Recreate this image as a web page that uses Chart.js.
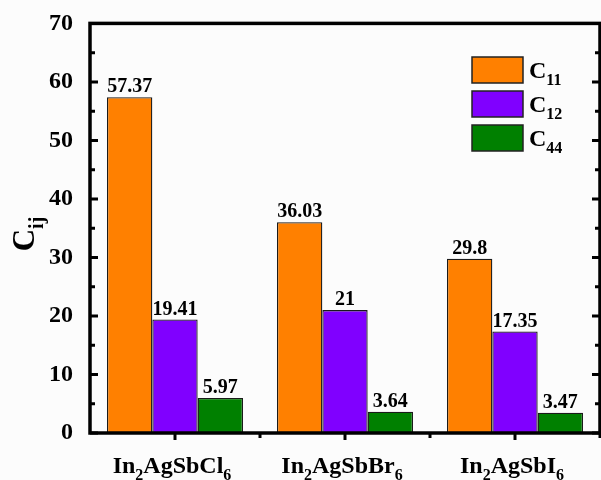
<!DOCTYPE html>
<html>
<head>
<meta charset="utf-8">
<script src="https://cdn.jsdelivr.net/npm/chart.js@4"></script>
<style>
  body { margin: 0; background: #fcfcfc; }
  #wrap { width: 601px; height: 480px; }
</style>
</head>
<body>
<div id="wrap"><canvas id="chart" width="601" height="480"></canvas></div>
<script>
// Data
const categories = ['In_{2}AgSbCl_{6}', 'In_{2}AgSbBr_{6}', 'In_{2}AgSbI_{6}'];
const seriesNames = ['C_{11}', 'C_{12}', 'C_{44}'];
const c11 = [57.37, 36.03, 29.8];
const c12 = [19.41, 21, 17.35];
const c44 = [5.97, 3.64, 3.47];
const yTicks = [0, 10, 20, 30, 40, 50, 60, 70];

const colors = ['#ff8000', '#8000ff', '#008000'];
const FONT = "'Liberation Serif', 'Times New Roman', serif";

// Draw text with _{...} parts as subscripts
function drawRich(ctx, text, x, y, size, subSize, align) {
    const parts = [];
    const re = /_\{([^}]*)\}/g;
    let last = 0, m;
    while ((m = re.exec(text)) !== null) {
        if (m.index > last) parts.push({ t: text.slice(last, m.index), sub: false });
        parts.push({ t: m[1], sub: true });
        last = re.lastIndex;
    }
    if (last < text.length) parts.push({ t: text.slice(last), sub: false });

    let total = 0;
    parts.forEach(p => {
        ctx.font = 'bold ' + (p.sub ? subSize : size) + 'px ' + FONT;
        p.w = ctx.measureText(p.t).width;
        total += p.w;
    });
    let cx = align === 'center' ? x - total / 2 : x;
    ctx.textAlign = 'left';
    ctx.textBaseline = 'alphabetic';
    parts.forEach(p => {
        ctx.font = 'bold ' + (p.sub ? subSize : size) + 'px ' + FONT;
        ctx.fillText(p.t, cx, p.sub ? y + size * 0.28 : y);
        cx += p.w;
    });
}

const framePlugin = {
    id: 'frame',
    afterDatasetsDraw(chart) {
        const ctx = chart.ctx;
        const { left, right, top, bottom } = chart.chartArea;
        const y = chart.scales.y;
        const x = chart.scales.x;
        ctx.save();
        ctx.fillStyle = '#000';
        ctx.strokeStyle = '#000';

        // value labels above bars
        chart.data.datasets.forEach((ds, di) => {
            chart.getDatasetMeta(di).data.forEach((bar, i) => {
                ctx.font = 'bold 20px ' + FONT;
                ctx.textAlign = 'center';
                ctx.textBaseline = 'bottom';
                ctx.fillText(String(ds.data[i]), bar.x, bar.y);
            });
        });

        // frame
        ctx.lineWidth = 3.5;
        ctx.strokeRect(left, top, right - left, bottom - top);

        // y ticks (inward), left and right
        for (let v = 0; v <= 70; v += 5) {
            const py = y.getPixelForValue(v);
            const len = v % 10 === 0 ? 8 : 5;
            ctx.lineWidth = 3;
            ctx.beginPath();
            ctx.moveTo(left, py); ctx.lineTo(left + len, py);
            ctx.moveTo(right, py); ctx.lineTo(right - len, py);
            ctx.stroke();
        }

        // x ticks (outward)
        for (let i = 0; i < categories.length; i++) {
            const px = x.getPixelForValue(i);
            const half = (x.getPixelForValue(1) - x.getPixelForValue(0)) / 2;
            ctx.lineWidth = 3;
            ctx.beginPath();
            ctx.moveTo(px, bottom); ctx.lineTo(px, bottom + 7);
            ctx.moveTo(px + half, bottom); ctx.lineTo(px + half, bottom + 5);
            ctx.stroke();
        }

        // x labels
        categories.forEach((c, i) => {
            drawRich(ctx, c, x.getPixelForValue(i) - 3, 473, 24, 16, 'center');
        });

        // y title
        ctx.save();
        ctx.translate(34, 234);
        ctx.rotate(-Math.PI / 2);
        drawRich(ctx, 'C_{ij}', 0, 0, 31, 20, 'center');
        ctx.restore();

        // legend
        const lx = 472, ly = [57, 91, 125];
        chart.data.datasets.forEach((ds, di) => {
            ctx.fillStyle = ds.backgroundColor;
            ctx.fillRect(lx, ly[di], 51, 26);
            ctx.lineWidth = 1.5;
            ctx.strokeStyle = '#222';
            ctx.strokeRect(lx, ly[di], 51, 26);
            ctx.fillStyle = '#000';
            drawRich(ctx, ds.label, lx + 57, ly[di] + 21, 24, 16, 'left');
        });
        ctx.restore();
    }
};

new Chart(document.getElementById('chart'), {
    type: 'bar',
    data: {
        labels: categories,
        datasets: [
            { label: seriesNames[0], data: c11, backgroundColor: colors[0] },
            { label: seriesNames[1], data: c12, backgroundColor: colors[1] },
            { label: seriesNames[2], data: c44, backgroundColor: colors[2] }
        ].map(d => Object.assign(d, {
            borderColor: '#1a1a1a',
            borderWidth: 1.3,
            categoryPercentage: 0.8,
            barPercentage: 1.0
        }))
    },
    options: {
        responsive: false,
        animation: false,
        layout: { padding: { top: 23, right: 1, left: 0, bottom: 0 } },
        plugins: { legend: { display: false }, tooltip: { enabled: false } },
        scales: {
            x: {
                grid: { display: false },
                border: { display: false },
                ticks: { display: false },
                afterFit(scale) { scale.height = 47; }
            },
            y: {
                min: 0,
                max: 70,
                afterBuildTicks(scale) { scale.ticks = yTicks.map(v => ({ value: v })); },
                grid: { display: false },
                border: { display: false },
                ticks: {
                    color: '#000',
                    padding: 9,
                    font: { family: FONT, size: 24, weight: 'bold' }
                },
                afterFit(scale) { scale.width = 90; }
            }
        }
    },
    plugins: [framePlugin]
});
</script>
</body>
</html>
